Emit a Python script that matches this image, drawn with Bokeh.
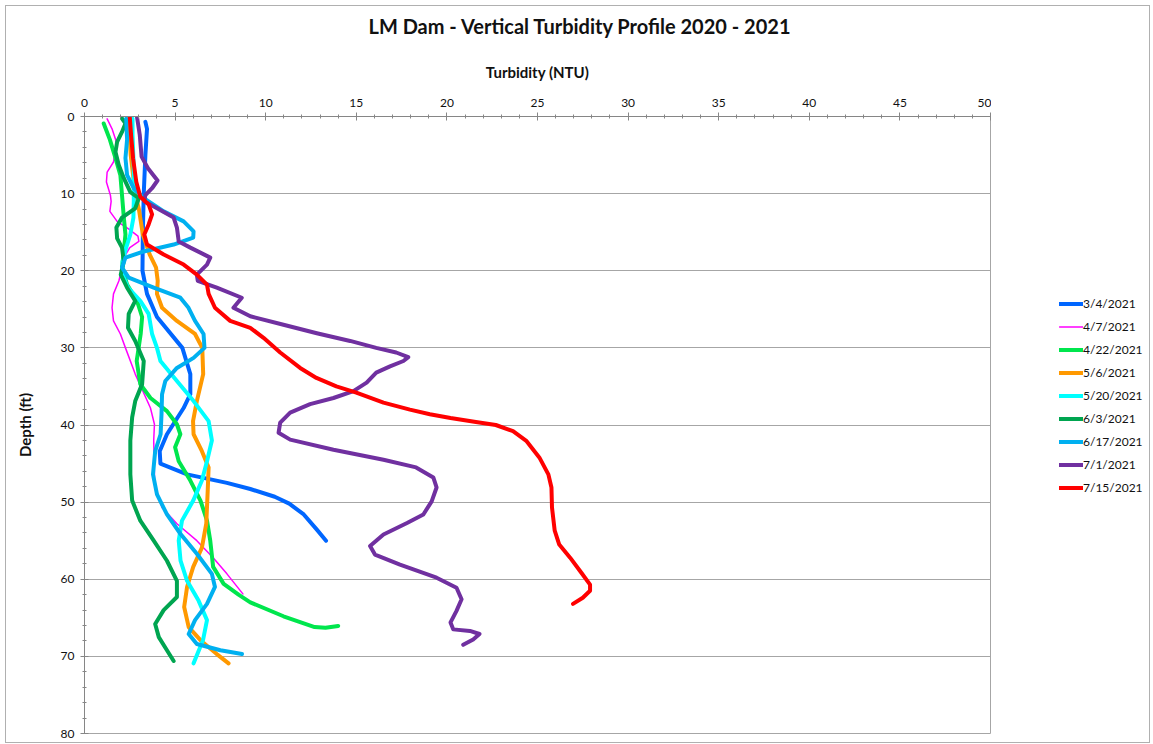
from bokeh.plotting import figure
from bokeh.models import Range1d, SingleIntervalTicker, Legend, LegendItem, Title
from bokeh.layouts import row
from bokeh.embed import file_html
from bokeh.resources import INLINE

# ---- data ----
labels = ["3/4/2021", "4/7/2021", "4/22/2021", "5/6/2021", "5/20/2021",
          "6/3/2021", "6/17/2021", "7/1/2021", "7/15/2021"]

d_0304 = [0.7, 1.6, 5, 10, 15, 20, 23, 26, 30, 33.4, 36, 37.8, 41.2, 43.4, 45, 46.4, 47.5, 48.3, 49.3, 50.2, 51.6, 53.5, 55]
t_0304 = [3.36, 3.45, 3.36, 3.27, 3.22, 3.2, 3.45, 4.0, 5.4, 5.84, 5.84, 5.47, 4.55, 4.15, 4.19, 5.66, 7.86, 9.15, 10.5, 11.3, 12.1, 12.8, 13.33]

d_0407 = [0.3, 1.6, 3.3, 5.9, 7.2, 8.5, 10.2, 11, 12.3, 13.6, 14.6, 15.5, 16.2, 17.0, 18.3, 19.6, 21.3, 23, 24.8, 26.5, 28.2, 30, 33.4, 37.8, 39.9, 42, 47.7, 50.7, 52.8, 55, 57.2, 59.3, 61.9]
t_0407 = [1.25, 1.52, 1.76, 1.6, 1.25, 1.21, 1.43, 1.47, 1.4, 1.8, 2.45, 2.95, 3.0, 2.5, 2.17, 2.07, 1.9, 1.6, 1.52, 1.6, 1.98, 2.26, 2.8, 3.64, 3.86, 3.82, 3.87, 4.28, 5.1, 6.2, 7.1, 7.86, 8.74]

d_0422 = [0.9, 3, 5.4, 7.6, 10.2, 13.1, 15.3, 17.5, 19.6, 21.8, 23.9, 26, 28.2, 31.7, 34.7, 36.5, 38.2, 39.9, 41.2, 42.9, 44.7, 47.2, 49.8, 52.4, 55, 58.4, 60.6, 62.0, 63.0, 64.8, 66.2, 66.3, 66.05]
t_0422 = [1.06, 1.4, 1.71, 1.98, 2.07, 2.17, 2.26, 2.17, 2.07, 2.35, 2.9, 3.18, 3.1, 2.88, 3.08, 3.64, 4.55, 5.1, 5.29, 5.0, 5.2, 5.84, 6.4, 6.76, 6.94, 7.1, 7.68, 8.5, 9.15, 10.98, 12.7, 13.3, 14.0]

d_0506 = [0.3, 5, 10, 12, 15.3, 17.9, 19.6, 21.3, 23, 24.8, 26.5, 28.2, 30, 33.4, 36.9, 39.5, 41.2, 43.4, 45.5, 48.5, 52.8, 55.9, 58.4, 61, 63.6, 66.2, 67.9, 69.7, 70.9]
t_0506 = [2.45, 2.55, 2.8, 3.0, 3.22, 3.6, 3.95, 4.04, 4.0, 4.28, 5.1, 6.1, 6.5, 6.55, 6.2, 5.99, 6.02, 6.48, 6.85, 6.8, 6.72, 6.48, 6.0, 5.66, 5.5, 5.75, 6.4, 7.3, 7.95]

d_0520 = [0.3, 2.4, 6.7, 8.8, 11, 13.1, 15.3, 17, 18.8, 20.5, 22.2, 23.9, 25.6, 28.2, 30, 31.7, 34.3, 36.9, 39.5, 42, 44.7, 47.2, 49.8, 52.4, 55, 57.6, 60.2, 62.8, 65.3, 67.9, 70.9]
t_0520 = [2.65, 2.65, 2.72, 2.72, 2.72, 2.7, 2.53, 2.3, 2.1, 2.1, 2.4, 3.08, 3.54, 3.73, 4.0, 4.19, 5.1, 6.02, 6.85, 7.03, 6.76, 6.48, 6.0, 5.38, 5.2, 5.3, 5.66, 6.3, 6.76, 6.54, 6.02]

d_0603 = [0.26, 0.9, 2.0, 3.3, 4.6, 6.3, 8.0, 9.8, 10.6, 11.9, 13.1, 14.4, 15.8, 17, 18.8, 20.5, 22.2, 23.9, 25.6, 27.4, 29.1, 31.7, 34.7, 36.9, 39, 42, 46.4, 49.8, 52.4, 55, 57.6, 60.2, 62.3, 64, 65.8, 67.5, 69.2, 70.6]
t_0603 = [2.07, 2.26, 2.07, 1.8, 1.71, 1.89, 2.17, 2.53, 3.0, 2.8, 2.07, 1.76, 1.8, 2.07, 2.17, 2.0, 2.35, 2.8, 2.44, 2.4, 2.8, 3.27, 3.18, 2.8, 2.63, 2.53, 2.53, 2.63, 3.08, 3.82, 4.55, 5.1, 5.1, 4.37, 3.9, 4.1, 4.55, 4.92]

d_0617 = [0.3, 3, 5.4, 7.6, 9.3, 10.6, 12.3, 13.6, 14.9, 15.7, 16.6, 17.5, 18.3, 19.6, 20.9, 22.2, 23.5, 24.8, 26.5, 28.2, 30, 31.3, 32.6, 34.3, 36, 38.6, 41.2, 43.4, 46.4, 49, 51.6, 54.1, 56.7, 59.3, 61, 63.2, 65.3, 67.1, 68.4, 69.2, 69.7]
t_0617 = [2.3, 2.35, 2.26, 2.35, 2.72, 3.27, 4.37, 5.47, 6.02, 6.0, 4.92, 3.27, 2.26, 2.07, 2.44, 3.82, 5.29, 5.74, 6.1, 6.57, 6.62, 6.02, 5.1, 4.46, 4.28, 4.25, 4.2, 3.9, 3.78, 4.0, 4.55, 5.29, 6.2, 7.03, 7.2, 6.76, 6.1, 5.75, 6.2, 7.5, 8.69]

d_0701 = [0.1, 2.4, 5.2, 6.7, 8.3, 9.3, 10.2, 11, 11.9, 13.1, 14.4, 16.2, 17, 18.3, 19.2, 20.5, 21.3, 22.2, 23.5, 24.8, 25.9, 27.0, 28.1, 29.1, 30.0, 30.6, 31.2, 31.7, 32.4, 33.2, 34.5, 35.6, 36.5, 37.3, 38.4, 39.7, 41.0, 41.9, 43.2, 44.5, 45.5, 46.8, 48.1, 49.9, 51.6, 52.7, 54.2, 55.7, 56.8, 58.1, 59.8, 61.1, 62.6, 64.1, 65.6, 66.5, 66.7, 67.1, 67.8, 68.5]
t_0701 = [2.9, 3.05, 3.15, 3.5, 4.03, 3.73, 3.36, 3.3, 4.0, 4.92, 5.1, 5.2, 5.84, 6.94, 6.76, 6.2, 6.25, 7.3, 8.68, 8.22, 9.15, 10.98, 12.82, 14.66, 16.1, 17.2, 17.87, 17.6, 16.86, 16.1, 15.57, 14.84, 13.74, 12.45, 11.35, 10.8, 10.71, 11.35, 13.74, 16.5, 18.3, 19.25, 19.43, 19.16, 18.7, 17.8, 16.5, 15.76, 16.03, 17.41, 19.43, 20.53, 20.81, 20.53, 20.2, 20.35, 21.27, 21.8, 21.45, 20.9]

d_0715 = [0.1, 2.4, 5.4, 8.5, 10.4, 11.4, 12.7, 14, 15.3, 16.6, 17.9, 19.2, 20.5, 21.8, 23, 24.8, 26.5, 27.4, 28.7, 30.6, 32.6, 33.9, 35.0, 35.8, 37.1, 38.0, 38.6, 39.1, 39.6, 40.0, 40.8, 42.1, 44.2, 46.4, 48.1, 50.7, 53.7, 55.5, 57.2, 59.1, 60.7, 61.5, 62.4, 63.2]
t_0715 = [2.5, 2.57, 2.68, 2.86, 3.08, 3.54, 3.73, 3.54, 3.3, 3.45, 4.37, 5.47, 6.2, 6.76, 6.85, 7.2, 8.04, 9.15, 9.88, 10.8, 11.9, 12.8, 13.9, 15.0, 16.5, 17.96, 19.06, 20.2, 21.6, 22.7, 23.65, 24.4, 25.1, 25.6, 25.77, 25.8, 25.95, 26.2, 26.8, 27.4, 27.9, 27.9, 27.5, 26.96]

x_ticks_interval = 5
y_ticks_interval = 10

series = [
    (labels[0], t_0304, d_0304, "#0066FF", 4),
    (labels[1], t_0407, d_0407, "#FF00FF", 1.5),
    (labels[2], t_0422, d_0422, "#00E64D", 4),
    (labels[3], t_0506, d_0506, "#FF9900", 4),
    (labels[4], t_0520, d_0520, "#00FFFF", 4),
    (labels[5], t_0603, d_0603, "#00A550", 4),
    (labels[6], t_0617, d_0617, "#00B0F0", 4),
    (labels[7], t_0701, d_0701, "#7030A0", 4),
    (labels[8], t_0715, d_0715, "#FF0000", 4),
]

FONT = "Lato"
H = 736

p = figure(width=985, height=H, output_backend="svg", toolbar_location=None,
           x_range=Range1d(0, 50), y_range=Range1d(80, 0),
           x_axis_location="above",
           min_border_left=78, min_border_right=1, min_border_top=110, min_border_bottom=H - 110 - 617,
           title="LM Dam - Vertical Turbidity Profile 2020 - 2021")

p.title.text_font = FONT
p.title.text_font_size = "20px"
p.title.text_font_style = "bold"
p.title.align = "left"
p.title.offset = 284
p.title.standoff = 4
p.title.text_color = "#111111"

p.xaxis.ticker = SingleIntervalTicker(interval=x_ticks_interval, num_minor_ticks=5)
p.yaxis.ticker = SingleIntervalTicker(interval=y_ticks_interval, num_minor_ticks=5)
p.xaxis.axis_label = "Turbidity (NTU)"
p.yaxis.axis_label = "Depth (ft)"
for ax in (p.xaxis, p.yaxis):
    ax.axis_label_text_font = FONT
    ax.axis_label_text_font_style = "bold"
    ax.axis_label_text_font_size = "15px"
    ax.axis_label_text_color = "#111111"
    ax.major_label_text_font = FONT
    ax.major_label_text_font_size = "12px"
    ax.major_label_text_color = "#111111"
    ax.axis_line_color = "#868686"
    ax.major_tick_line_color = "#868686"
    ax.minor_tick_line_color = "#868686"
    ax.major_tick_in = 4
    ax.major_tick_out = 4
    ax.minor_tick_in = 2
    ax.minor_tick_out = 2
    ax.major_label_standoff = 6
p.xaxis.axis_label_standoff = 15
p.yaxis.axis_label_standoff = 24

# empty spacer panel between the x axis and the chart title
p.add_layout(Title(text=" ", text_font_size="1px", standoff=17), "above")

p.xgrid.visible = False
p.ygrid.grid_line_color = "#A6A6A6"
p.outline_line_color = "#A6A6A6"

for name, xs, ys, col, w in series:
    p.line(xs, ys, line_color=col, line_width=w, line_join="round", line_cap="round")

# legend panel to the right of the plot area (legend-only renderers hold no visible data)
lp = figure(width=158, height=H, output_backend="svg", toolbar_location=None,
            x_axis_type=None, y_axis_type=None, x_range=Range1d(0, 1), y_range=Range1d(0, 1),
            min_border=0, outline_line_color=None)
items = []
nan = float("nan")
for name, xs, ys, col, w in series:
    r = lp.line([nan, nan], [nan, nan], line_color=col, line_width=w, line_cap="round")
    items.append(LegendItem(label=name, renderers=[r]))

legend = Legend(items=items, location=(68, 234), orientation="vertical")
legend.label_text_font = FONT
legend.label_text_font_size = "12px"
legend.label_text_color = "#111111"
legend.glyph_width = 24
legend.glyph_height = 23
legend.label_height = 23
legend.spacing = 0
legend.padding = 0
legend.margin = 0
legend.label_standoff = 0
legend.border_line_color = None
legend.background_fill_alpha = 0
lp.add_layout(legend, "center")

layout = row(p, lp, styles={"border": "1px solid #B0B0B0", "margin-left": "5px", "margin-top": "5px"})

with open("out.html", "w") as f:
    f.write(file_html(layout, INLINE))
